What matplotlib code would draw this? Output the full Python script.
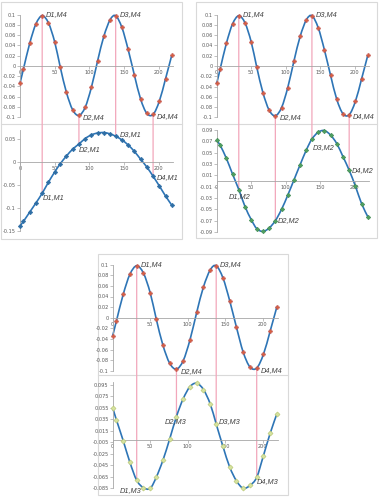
import matplotlib
matplotlib.use("Agg")
import matplotlib.pyplot as plt
from matplotlib.path import Path
from matplotlib.patches import PathPatch, Rectangle, ConnectionPatch
from matplotlib.lines import Line2D

# datos
x_vals = [0, 5, 14, 23, 32, 41, 50, 58, 67, 76, 85, 94, 103, 112, 121, 130,
          138, 147, 156, 165, 174, 183, 192, 201, 210, 219]
m4 = [-0.034, -0.006, 0.044, 0.082, 0.098, 0.084, 0.047, -0.002, -0.052, -0.086,
      -0.097, -0.081, -0.042, 0.010, 0.058, 0.090, 0.098, 0.075, 0.032, -0.018,
      -0.065, -0.093, -0.095, -0.069, -0.025, 0.021]
m1 = [-0.139, -0.129, -0.109, -0.089, -0.068, -0.044, -0.022, -0.004, 0.013, 0.028,
      0.039, 0.051, 0.059, 0.063, 0.064, 0.061, 0.056, 0.048, 0.037, 0.023,
      0.006, -0.011, -0.031, -0.052, -0.074, -0.094]
m2 = [0.072, 0.063, 0.040, 0.012, -0.015, -0.045, -0.068, -0.084, -0.089, -0.083,
      -0.070, -0.050, -0.025, 0.002, 0.029, 0.055, 0.074, 0.086, 0.089, 0.081,
      0.066, 0.043, 0.019, -0.009, -0.040, -0.063]
m3 = [0.055, 0.034, -0.002, -0.040, -0.071, -0.084, -0.085, -0.066, -0.036, 0.001,
      0.040, 0.071, 0.092, 0.098, 0.087, 0.062, 0.027, -0.012, -0.048, -0.072,
      -0.085, -0.080, -0.066, -0.028, 0.011, 0.045]
d_idx = [4, 10, 16, 22]
d_nombres = ["D1", "D2", "D3", "D4"]

x_ticks = [0, 50, 100, 150, 200]
yt_m4 = [-0.1, -0.08, -0.06, -0.04, -0.02, 0, 0.02, 0.04, 0.06, 0.08, 0.1]
yl_m4 = ["-0.1", "-0.08", "-0.06", "-0.04", "-0.02", "0", "0.02", "0.04", "0.06", "0.08", "0.1"]
yt_m1 = [-0.15, -0.1, -0.05, 0, 0.05]
yl_m1 = ["-0.15", "-0.1", "-0.05", "0", "0.05"]
yt_m2 = [-0.09, -0.07, -0.05, -0.03, -0.01, 0.01, 0.03, 0.05, 0.07, 0.09]
yl_m2 = ["-0.09", "-0.07", "-0.05", "-0.03", "-0.01", "0.01", "0.03", "0.05", "0.07", "0.09"]
yt_m3 = [-0.085, -0.065, -0.045, -0.025, -0.005, 0.015, 0.035, 0.055, 0.075, 0.095]
yl_m3 = ["-0.085", "-0.065", "-0.045", "-0.025", "-0.005", "0.015", "0.035", "0.055", "0.075", "0.095"]

azul = "#2e75b6"
rosa = "#f2a7bb"
gris = "#a6a6a6"
borde = "#d9d9d9"

W, H = 379, 500
fig = plt.figure(figsize=(W / 100, H / 100), dpi=100)


def rect(left, top, width, height):
    return [left / W, 1 - (top + height) / H, width / W, height / H]


def curva(ax, xs, ys):
    # linea suavizada (como la de Excel) a traves de los puntos
    verts = [(xs[0], ys[0])]
    codes = [Path.MOVETO]
    n = len(xs)
    for i in range(n - 1):
        x0, y0 = xs[max(i - 1, 0)], ys[max(i - 1, 0)]
        x1, y1 = xs[i], ys[i]
        x2, y2 = xs[i + 1], ys[i + 1]
        x3, y3 = xs[min(i + 2, n - 1)], ys[min(i + 2, n - 1)]
        verts += [(x1 + (x2 - x0) / 6, y1 + (y2 - y0) / 6),
                  (x2 - (x3 - x1) / 6, y2 - (y3 - y1) / 6),
                  (x2, y2)]
        codes += [Path.CURVE4] * 3
    ax.add_patch(PathPatch(Path(verts, codes), fill=False, edgecolor=azul,
                           lw=1.2, clip_on=False, zorder=2))


def estilo(ax, ylim, yt, yl):
    ax.set_xlim(0, 220)
    ax.set_ylim(*ylim)
    ax.set_facecolor("none")
    ax.spines["top"].set_visible(False)
    ax.spines["right"].set_visible(False)
    ax.spines["bottom"].set_position(("data", 0))
    for s in ["left", "bottom"]:
        ax.spines[s].set_color(gris)
        ax.spines[s].set_linewidth(0.6)
    ax.set_xticks(x_ticks)
    ax.set_xticklabels([str(t) for t in x_ticks])
    ax.set_yticks(yt)
    ax.set_yticklabels(yl)
    ax.tick_params(length=2, width=0.5, color=gris, labelsize=3.6,
                   labelcolor="#595959", pad=1)


def serie(ax, ys, marker, ms, fc, ec):
    curva(ax, x_vals, ys)
    ax.plot(x_vals, ys, linestyle="none", marker=marker, ms=ms, mfc=fc, mec=ec,
            mew=0.4, clip_on=False, zorder=3)


def etiqueta(ax, texto, x, y, dx, dy, ha="left"):
    ax.annotate(texto, xy=(x, y), xytext=(dx * 0.72, dy * 0.72), textcoords="offset points",
                ha=ha, va="center", fontsize=5.3, style="italic", color="#404040",
                family="Liberation Sans", annotation_clip=False, zorder=4)


def panel(caja, sep_y, top_ax, bot_ax, datos, nombre, ylim_b, yt_b, yl_b, mk, offs):
    # caja del grafico y separador
    l, t, w, h = caja
    fig.add_artist(Rectangle((l / W, 1 - (t + h) / H), w / W, h / H, transform=fig.transFigure,
                             fill=False, edgecolor=borde, lw=0.8, zorder=-2))
    fig.add_artist(Line2D([l / W, (l + w) / W], [1 - sep_y / H, 1 - sep_y / H],
                          transform=fig.transFigure, color=borde, lw=0.8, zorder=-2))
    a1 = fig.add_axes(rect(*top_ax))
    estilo(a1, (-0.1, 0.1), yt_m4, yl_m4)
    serie(a1, m4, "P", 2.8, "#d9623f", "#c0504d")
    a2 = fig.add_axes(rect(*bot_ax))
    estilo(a2, ylim_b, yt_b, yl_b)
    serie(a2, datos, mk[0], mk[1], mk[2], mk[3])
    for k, i in enumerate(d_idx):
        xd = x_vals[i]
        cp = ConnectionPatch(xyA=(xd, m4[i]), coordsA=a1.transData,
                             xyB=(xd, datos[i]), coordsB=a2.transData,
                             color=rosa, lw=0.9, zorder=-1)
        fig.add_artist(cp)
        if m4[i] > 0:
            etiqueta(a1, d_nombres[k] + ",M4", xd, m4[i], 4, 1)
        else:
            etiqueta(a1, d_nombres[k] + ",M4", xd, m4[i], 4, -2)
        dx, dy, ha = offs[k]
        etiqueta(a2, d_nombres[k] + "," + nombre, xd, datos[i], dx, dy, ha)


panel((1, 2, 181, 237), 124, (20, 14.7, 152.5, 102.3), (20, 129.8, 152.5, 101.2),
      m1, "M1", (-0.15, 0.07), yt_m1, yl_m1, ("D", 2.3, "#2f6ea5", "#2f6ea5"),
      [(1, -4, "left"), (0, -5, "left"), (4, 1.5, "left"), (4, -1, "left")])

panel((196, 2, 181, 236), 124, (216.7, 14.7, 151.8, 102.6), (216.7, 130, 151.8, 102),
      m2, "M2", (-0.09, 0.09), yt_m2, yl_m2, ("D", 2.3, "#4f9f60", "#3f8a50"),
      [(1, -7.5, "center"), (2, 0, "left"), (1, -8, "left"), (3, 0, "left")])

panel((98, 254, 190, 241), 375, (112.7, 264.7, 165, 106), (112.7, 382.1, 165, 106.2),
      m3, "M3", (-0.085, 0.1), yt_m3, yl_m3, ("D", 2.6, "#d6e29e", "#b5c46e"),
      [(5, -10, "right"), (-1, -5.5, "center"), (3, 2, "left"), (0.5, -4, "left")])

fig.savefig("out.png", dpi=100)
